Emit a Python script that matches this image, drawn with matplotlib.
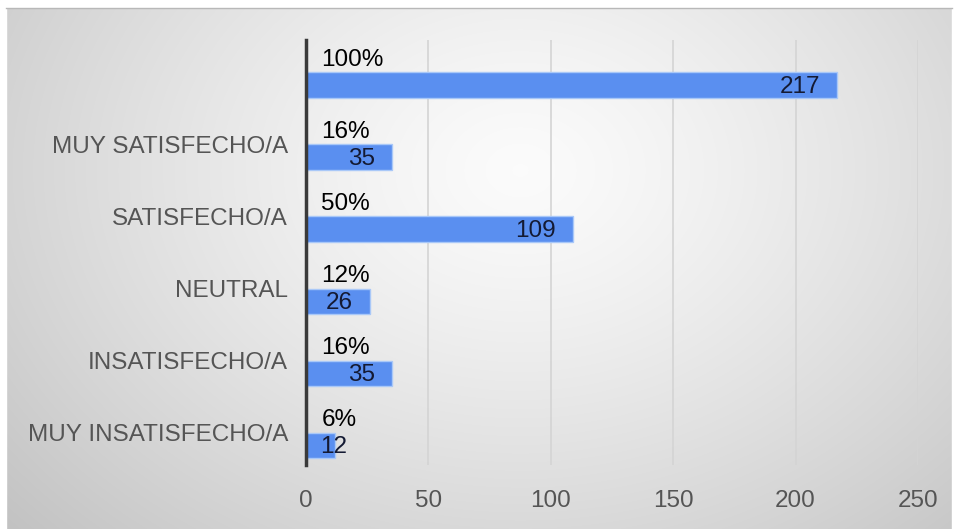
import numpy as np
import matplotlib.pyplot as plt
from matplotlib.patches import Rectangle

# data, bottom to top
categories = ['MUY INSATISFECHO/A', 'INSATISFECHO/A', 'NEUTRAL',
              'SATISFECHO/A', 'MUY SATISFECHO/A', '']
counts = [12, 35, 26, 109, 35, 217]
percents = ['6%', '16%', '12%', '50%', '16%', '100%']
xticks = [0, 50, 100, 150, 200, 250]

plt.rcParams['font.family'] = ['Liberation Sans', 'DejaVu Sans']

W, H = 957, 529
fig = plt.figure(figsize=(W / 100, H / 100), dpi=100)

# radial gradient background (slide style)
bg = fig.add_axes([0, 0, 1, 1], zorder=-5)
yy, xx = np.mgrid[0:H, 0:W]
r = np.sqrt(((xx - 520) / 560.0) ** 2 + ((yy - 170) / 430.0) ** 2)
shade = np.clip(0.985 - 0.17 * r ** 1.3, 0.74, 1)
bg.imshow(np.dstack([shade] * 3), aspect='auto', extent=[0, W, H, 0])
bg.add_patch(Rectangle((0, 0), W, 7, color='white'))
bg.add_patch(Rectangle((0, 0), 6, H, color='white'))
bg.add_patch(Rectangle((W - 5, 0), 5, H, color='white'))
bg.plot([6, W - 5], [7.5, 7.5], color='#b8b8b8', lw=1)
bg.set_xlim(0, W)
bg.set_ylim(H, 0)
bg.axis('off')

# main axes: x=0 at px 306, x=250 at px 918, top 40, bottom 465
ax = fig.add_axes([306 / W, (H - 465) / H, 612 / W, 425 / H])
ax.patch.set_alpha(0)

y = np.arange(len(categories))
bar_h = 0.35
ax.barh(y - bar_h, counts, height=bar_h, align='edge',
        color='#5a8ff0', edgecolor='#a9c8f8', linewidth=1, zorder=3)

ax.set_xlim(0, 250)
ax.set_ylim(-0.45, len(categories) - 0.55)
ax.set_xticks(xticks)
ax.set_yticks(y)
ax.set_yticklabels(categories)
ax.tick_params(axis='both', length=0, labelsize=17.5, colors='#555555')
ax.tick_params(axis='x', pad=18)
ax.tick_params(axis='y', pad=13)
ax.grid(axis='x', color='#d4d4d4', lw=1.2, zorder=0)
for s in ['top', 'right', 'bottom']:
    ax.spines[s].set_visible(False)
ax.spines['left'].set_color('#3a3a3a')
ax.spines['left'].set_linewidth(2.5)
ax.spines['left'].set_zorder(4)

for yi, c, p in zip(y, counts, percents):
    ax.annotate(p, (0, yi + 0.17), xytext=(11, 0), textcoords='offset points',
                ha='left', va='center', fontsize=17.5, color='black', zorder=5)
    if c < 20:
        ax.annotate(str(c), (0, yi - bar_h / 2 - 0.03), xytext=(10, 0),
                    textcoords='offset points', ha='left', va='center',
                    fontsize=17.5, color='#141a33', zorder=5)
    else:
        ax.annotate(str(c), (c, yi - bar_h / 2 - 0.03), xytext=(-12, 0),
                    textcoords='offset points', ha='right', va='center',
                    fontsize=17.5, color='#141a33', zorder=5)

fig.savefig('out.png', dpi=100)
